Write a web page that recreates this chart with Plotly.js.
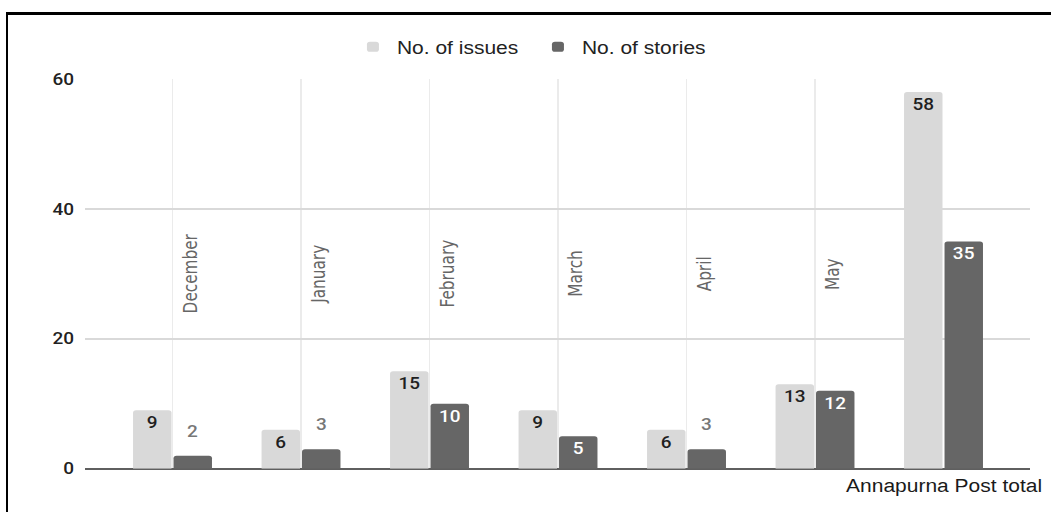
<!DOCTYPE html>
<html>
<head>
<meta charset="utf-8">
<script src="https://cdn.plot.ly/plotly-3.0.1.min.js"></script>
<style>
  html, body { margin: 0; padding: 0; background: #ffffff; overflow: hidden; }
  #stage { position: absolute; left: 0; top: 0; width: 1051px; height: 512px; overflow: hidden; background: #fff; }
  #chart { position: absolute; left: 0; top: 0; width: 1051px; height: 602px; transform-origin: 0 0; transform: scaleY(0.8505); }
  #frameTop { position: absolute; left: 6px; top: 12px; width: 1045px; height: 3px; background: #000; }
  #frameLeft { position: absolute; left: 6px; top: 12px; width: 2px; height: 500px; background: #000; }
</style>
</head>
<body>
<div id="stage">
  <div id="chart"></div>
  <div id="frameTop"></div>
  <div id="frameLeft"></div>
</div>
<script>
// ---- data ----
const categories = ['December', 'January', 'February', 'March', 'April', 'May', 'Annapurna Post total'];
const issues = [9, 6, 15, 9, 6, 13, 58];
const stories = [2, 3, 10, 5, 3, 12, 35];
const seriesNames = ['No. of issues', 'No. of stories'];
const yTicks = [0, 20, 40, 60];

// ---- styling / geometry ----
const lightColor = '#d9d9d9';
const darkColor = '#666666';
const numFont = 'Roboto, "Liberation Sans", Arial, sans-serif';
const txtFont = '"Liberation Sans", Arial, sans-serif';
const narrowFont = '"Liberation Sans Narrow", "Arial Narrow", "DejaVu Sans Condensed", "Liberation Sans", sans-serif';
const W = 1051, H = 602;
const M = { l: 85, r: 21, t: 93, b: 51 };
const xRange = [-0.681, 6.673];
const bargap = 0.37;
const catPx = (W - M.l - M.r) / (xRange[1] - xRange[0]);
const slotOffset = catPx * (1 - bargap) / 4; // centre of each bar within its group

function isOutside(v) { return v <= 3; }

function makeTrace(name, values, color, insideColor) {
  return {
    type: 'bar',
    name: name,
    x: categories,
    y: values,
    text: values.map(v => isOutside(v) ? '' : String(v)),
    textposition: values.map(v => isOutside(v) ? 'none' : 'inside'),
    insidetextanchor: 'end',
    constraintext: 'none',
    textfont: { family: numFont, size: 19, weight: 500, color: insideColor },
    marker: { color: color },
    hoverinfo: 'none'
  };
}
const traceIssues = makeTrace(seriesNames[0], issues, lightColor, '#1f1f1f');
const traceStories = makeTrace(seriesNames[1], stories, darkColor, '#ffffff');

const annotations = [];
// value labels of short bars, placed above them
[[issues, -slotOffset], [stories, slotOffset]].forEach(([vals, dx]) => {
  vals.forEach((v, i) => {
    if (isOutside(v)) {
      annotations.push({
        x: categories[i], y: v, xref: 'x', yref: 'y',
        text: String(v), showarrow: false,
        xanchor: 'center', yanchor: 'middle', xshift: dx, yshift: 28.5,
        font: { family: numFont, size: 19, weight: 500, color: '#777777' }
      });
    }
  });
});
// category labels: rotated inside the plot for months, horizontal for the total
categories.forEach((c, i) => {
  if (i < categories.length - 1) {
    annotations.push({
      x: c, y: 30, xref: 'x', yref: 'y',
      text: c, showarrow: false, textangle: -90,
      xanchor: 'center', yanchor: 'middle', xshift: 17,
      font: { family: narrowFont, size: 20, color: '#666666' }
    });
  } else {
    annotations.push({
      x: 1.0145, y: 0, xref: 'paper', yref: 'paper',
      text: c, showarrow: false,
      xanchor: 'right', yanchor: 'top', yshift: -6,
      font: { family: txtFont, size: 21, color: '#1a1a1a' }
    });
  }
});

const layout = {
  width: W,
  height: H,
  margin: { l: M.l, r: M.r, t: M.t, b: M.b, pad: 0 },
  paper_bgcolor: '#ffffff',
  plot_bgcolor: '#ffffff',
  barmode: 'group',
  bargap: bargap,
  bargroupgap: 0.05,
  barcornerradius: 3,
  showlegend: true,
  legend: {
    orientation: 'h',
    x: 0.2793, xanchor: 'left',
    y: 1.0823, yanchor: 'middle',
    itemwidth: 38,
    entrywidth: 132,
    entrywidthmode: 'pixels',
    font: { family: txtFont, size: 21, color: '#222222' },
    itemclick: false, itemdoubleclick: false
  },
  xaxis: {
    type: 'category',
    range: xRange,
    tickmode: 'array',
    tickvals: categories.slice(0, categories.length - 1),
    showticklabels: false,
    ticks: '',
    showgrid: true,
    gridcolor: '#ebebeb',
    gridwidth: 1.3,
    showline: false,
    zeroline: false,
    fixedrange: true
  },
  yaxis: {
    range: [0, 60],
    tickmode: 'array',
    tickvals: yTicks,
    ticktext: yTicks.map(String),
    ticks: '',
    ticklabelstandoff: 10,
    tickfont: { family: numFont, size: 19, weight: 500, color: '#222222' },
    showgrid: true,
    gridcolor: '#d9d9d9',
    gridwidth: 2,
    zeroline: true,
    zerolinecolor: '#5f5f5f',
    zerolinewidth: 2.3,
    showline: false,
    fixedrange: true
  },
  annotations: annotations
};

Plotly.newPlot('chart', [traceIssues, traceStories], layout, { displayModeBar: false, staticPlot: true });
</script>
</body>
</html>
